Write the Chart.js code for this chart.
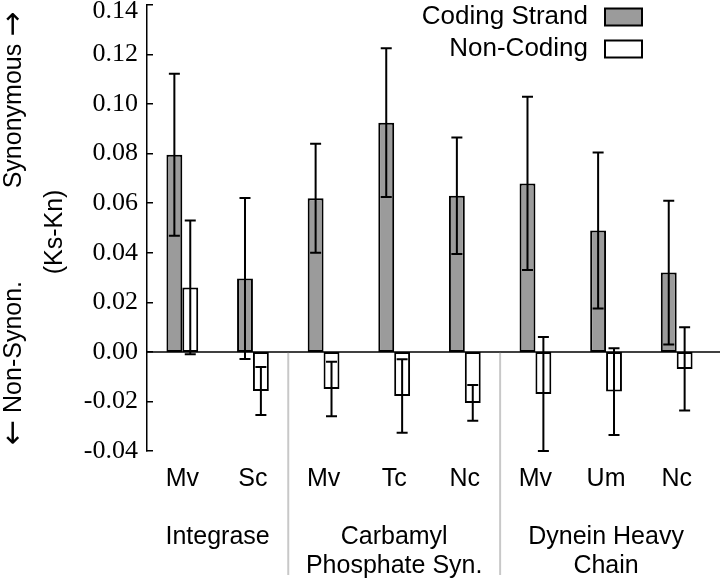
<!DOCTYPE html>
<html>
<head>
<meta charset="utf-8">
<script src="https://cdn.jsdelivr.net/npm/chart.js@4"></script>
<style>
  html, body { margin: 0; padding: 0; background: #fff; }
  canvas { display: block; }
</style>
</head>
<body>
<canvas id="chart" width="720" height="580"></canvas>
<script>
const categories      = ['Mv', 'Sc', 'Mv', 'Tc', 'Nc', 'Mv', 'Um', 'Nc'];
const groupLabels     = [['Integrase'], ['Carbamyl', 'Phosphate Syn.'], ['Dynein Heavy', 'Chain']];
const groupCenters    = [0.5, 3, 6];
const groupBreaks     = [1.5, 4.5];
const codingValues    = [0.0796, 0.0296, 0.062, 0.0925, 0.063, 0.068, 0.049, 0.032];
const codingErrors    = [0.0327, 0.0325, 0.022, 0.030, 0.0235, 0.035, 0.0315, 0.029];
const nonCodingValues = [0.026, -0.0158, -0.015, -0.0178, -0.0206, -0.017, -0.016, -0.0069];
const nonCodingErrors = [0.027, 0.0097, 0.011, 0.0148, 0.0072, 0.023, 0.0175, 0.0168];
const yMin = -0.04, yMax = 0.14, yStep = 0.02;

const SANS  = "'Liberation Sans', Arial, sans-serif";
const SERIF = "'Liberation Serif', 'Times New Roman', serif";
const ARROW = "'DejaVu Sans', sans-serif";
const GRAY  = '#9b9b9b';

const errors = [codingErrors, nonCodingErrors];

// error bars, zero line, group separators, legend and y titles
const extras = {
  id: 'extras',
  afterDatasetsDraw(chart) {
    const ctx = chart.ctx;
    const y = chart.scales.y;
    const area = chart.chartArea;
    ctx.save();
    ctx.strokeStyle = '#000';
    ctx.lineWidth = 2;
    chart.data.datasets.forEach((ds, i) => {
      const meta = chart.getDatasetMeta(i);
      meta.data.forEach((bar, j) => {
        const v = ds.data[j], e = errors[i][j];
        const top = y.getPixelForValue(v + e);
        const bot = y.getPixelForValue(v - e);
        ctx.beginPath();
        ctx.moveTo(bar.x, top); ctx.lineTo(bar.x, bot);
        ctx.moveTo(bar.x - 5.5, top); ctx.lineTo(bar.x + 5.5, top);
        ctx.moveTo(bar.x - 5.5, bot); ctx.lineTo(bar.x + 5.5, bot);
        ctx.stroke();
      });
    });
    // zero line
    const y0 = y.getPixelForValue(0);
    ctx.lineWidth = 1.5;
    ctx.beginPath();
    ctx.moveTo(area.left, y0); ctx.lineTo(chart.width, y0);
    ctx.stroke();
    ctx.restore();
  },
  afterDraw(chart) {
    const ctx = chart.ctx;
    const x = chart.scales.x;
    const y = chart.scales.y;
    const y0 = y.getPixelForValue(0);
    ctx.save();
    ctx.strokeStyle = '#c8c8c8';
    ctx.lineWidth = 2;
    groupBreaks.forEach(b => {
      const px = x.getPixelForValue(b);
      ctx.beginPath();
      ctx.moveTo(px, y0 + 1); ctx.lineTo(px, 575);
      ctx.stroke();
    });

    // legend
    ctx.font = `26px ${SANS}`;
    ctx.textAlign = 'right';
    ctx.textBaseline = 'middle';
    chart.data.datasets.forEach((ds, i) => {
      const cy = 17 + i * 32;
      ctx.fillStyle = '#000';
      ctx.fillText(ds.label, 588, cy);
      ctx.fillStyle = ds.backgroundColor;
      ctx.fillRect(605, cy - 8.5, 37, 17);
      ctx.lineWidth = 2;
      ctx.strokeStyle = '#000';
      ctx.strokeRect(605, cy - 8.5, 37, 17);
    });

    // y titles (rotated), arrows from DejaVu so they are full size
    ctx.fillStyle = '#000';
    ctx.textAlign = 'left';
    ctx.textBaseline = 'middle';
    const rot = (parts, cx, cy) => {
      ctx.save();
      ctx.translate(cx, cy);
      ctx.rotate(-Math.PI / 2);
      let total = 0;
      parts.forEach(p => { ctx.font = p[1]; total += ctx.measureText(p[0]).width; });
      let px = -total / 2;
      parts.forEach(p => {
        ctx.font = p[1];
        ctx.fillText(p[0], px, 0);
        px += ctx.measureText(p[0]).width;
      });
      ctx.restore();
    };
    const f = `25px ${SANS}`, fa = `30px ${ARROW}`;
    rot([['Synonymous ', f], ['\u2192', fa]], 14, 100);
    rot([['(Ks-Kn)', f]], 55, 232);
    rot([['\u2190', fa], [' Non-Synon.', f]], 14, 363);
    ctx.restore();
  }
};

new Chart(document.getElementById('chart'), {
  type: 'bar',
  data: {
    labels: categories,
    datasets: [
      {
        label: 'Coding Strand',
        data: codingValues,
        backgroundColor: GRAY,
        borderColor: '#000',
        borderWidth: 2,
        borderSkipped: false,
      },
      {
        label: 'Non-Coding',
        data: nonCodingValues,
        backgroundColor: '#fff',
        borderColor: '#000',
        borderWidth: 2,
        borderSkipped: false,
      }
    ]
  },
  options: {
    responsive: false,
    animation: false,
    categoryPercentage: 0.45,
    barPercentage: 1,
    layout: { padding: { top: 5, right: 8, left: 0, bottom: 0 } },
    plugins: { legend: { display: false }, tooltip: { enabled: false } },
    scales: {
      x: {
        weight: 0,
        grid: { display: false, drawTicks: false },
        border: { display: false },
        ticks: { color: '#000', font: { family: SANS, size: 25 }, padding: 13, maxRotation: 0, autoSkip: false },
        afterFit(s) { s.height = 60; }
      },
      x2: {
        type: 'linear',
        position: 'bottom',
        weight: 1,
        offset: false,
        min: -0.5,
        max: 7.5,
        grid: { display: false, drawTicks: false },
        border: { display: false },
        afterBuildTicks(s) { s.ticks = groupCenters.map(v => ({ value: v })); },
        ticks: {
          color: '#000',
          font: { family: SANS, size: 25, lineHeight: 1.15 },
          padding: 12,
          maxRotation: 0,
          autoSkip: false,
          callback: (v, i) => groupLabels[i]
        },
        afterFit(s) { s.height = 69; }
      },
      y: {
        min: yMin,
        max: yMax,
        grid: { drawOnChartArea: false, drawTicks: true, tickLength: -6, color: '#000', lineWidth: 1.5 },
        border: { display: true, color: '#000', width: 1.5 },
        ticks: {
          stepSize: yStep,
          color: '#000',
          padding: 15,
          font: { family: SERIF, size: 26, lineHeight: 0.46 },
          callback: v => Math.abs(v - yMax) < 1e-9 ? ['', v.toFixed(2)] : v.toFixed(2)
        },
        afterFit(s) { s.width = 147; s.paddingTop = 0; s.paddingBottom = 0; }
      }
    }
  },
  plugins: [extras]
});
</script>
</body>
</html>
